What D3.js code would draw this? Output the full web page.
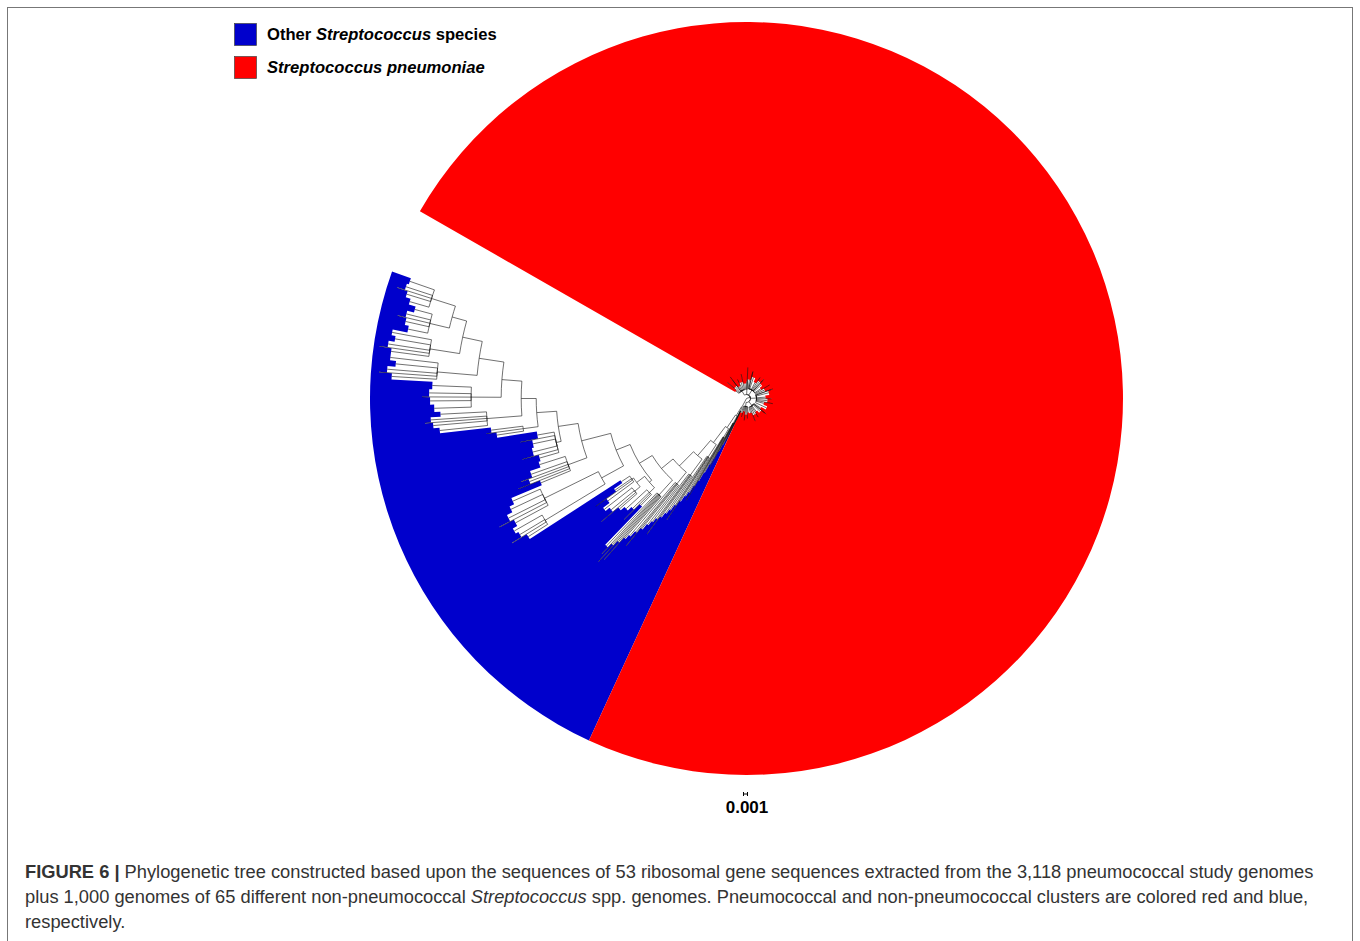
<!DOCTYPE html>
<html>
<head>
<meta charset="utf-8">
<script src="https://cdn.jsdelivr.net/npm/d3@7"></script>
<style>
  html, body { margin: 0; padding: 0; background: #fff; }
  svg { display: block; }
</style>
</head>
<body>
<svg id="fig" width="1360" height="941"></svg>
<script>
// ---------------------------------------------------------------------------
// Tree data (Newick). Tip labels = number of genomes collapsed into the tip,
// branch lengths in substitutions per site.
// ---------------------------------------------------------------------------

// Streptococcus pneumoniae (3,118 genomes): short star-like clade near the root
const pneumoSubclades = [
  "(120:0.001,1:0.004,150:0.00175,1:0.0035,1:0.0045,138:0.00125,1:0.003,150:0.002,1:0.004,143:0.0015):0.00125",
  "(30:0.002,1:0.0055,27:0.0025):0.00125",
  "(100:0.00225,1:0.00425,1:0.0045,118:0.003,110:0.002,1:0.00375,105:0.00275,1:0.0035,1:0.004,108:0.0025,100:0.00175,1:0.0042):0.0015",
  "(120:0.0025,1:0.004,1:0.0045,129:0.00325,115:0.00225,1:0.00375,120:0.00275,1:0.0042,108:0.002,110:0.003):0.0015",
  "(100:0.002,1:0.0035,1:0.004,119:0.0025,110:0.00175,1:0.00325,130:0.00225,1:0.0038,125:0.0015):0.00125",
  "(90:0.0015,1:0.003,100:0.002,1:0.0035,109:0.00125,1:0.00275,111:0.00175):0.001"
];
const pneumoStem = 0.001;

// Other Streptococcus species (1,000 genomes): clades hanging off one long
// backbone, listed from the root outwards
const otherSubclades = [
  "(6:0.0025,6:0.004,1:0.0085,6:0.006,6:0.00775):0.001",
  "(7:0.006,7:0.008,1:0.013,7:0.01,7:0.01175):0.002",
  "(7:0.01,7:0.0125,1:0.01825,7:0.01425,7:0.01625):0.0025",
  "(8:0.01125,9:0.013,1:0.01875,9:0.0145,8:0.01625):0.00375",
  "(8:0.01125,9:0.01275,1:0.01825,9:0.01375,8:0.015):0.005",
  "(8:0.0125,9:0.01425,1:0.02,9:0.01575,8:0.0175):0.00375",
  "(8:0.01375,1:0.02125,8:0.0155,1:0.0225,8:0.017,1:0.0205,12:0.01825):0.005",
  "((15:0.00375,1:0.00925,15:0.00575,20:0.007):0.00175,((15:0.00575,1:0.01125,20:0.0075,15:0.00875):0.00175,(20:0.008,1:0.01125,15:0.005,15:0.0025):0.0005):0.0025):0.00075",
  "((15:0.00575,1:0.01,15:0.00725,15:0.008):0.0175,(18:0.00925,1:0.01325,18:0.01025,17:0.00875,18:0.0075):0.015):0.00625",
  "(15:0.008,1:0.01375,15:0.0105,1:0.0125,20:0.0095,19:0.00675):0.005",
  "(20:0.005,1:0.00925,25:0.00625,24:0.00575,1:0.00875,23:0.00425):0.00125",
  "(14:0.00675,1:0.00925,14:0.008):0.00375",
  "(12:0.012,12:0.0135,1:0.0155,11:0.014,11:0.0115):0.00875",
  "(16:0.00925,16:0.01025,1:0.01225,16:0.0105,16:0.00975):0.0075",
  "(12:0.01125,1:0.0145,12:0.0125,11:0.0105,11:0.012):0.01",
  "(12:0.0095,1:0.0125,12:0.0105,11:0.009,11:0.01):0.0075",
  "(13:0.005,14:0.006,1:0.00825,13:0.00625,12:0.0045):0.005",
  "(12:0.005,12:0.00625,1:0.009,12:0.007,12:0.0065):0.00625"
];
// backbone internal branch lengths, root side first
const otherBackbone = [0.0025, 0.00375, 0.005, 0.005, 0.005, 0.00375, 0.00375, 0.00375,
                       0.0075, 0.005, 0.005, 0.00375, 0.005, 0.00625, 0.005, 0.00375];
const otherStem = 0.0025;

const clades = [
  { name: "Other Streptococcus species", color: "#0000cc" },
  { name: "Streptococcus pneumoniae", color: "#ff0000" }
];
const scaleBarLength = 0.001;

// ---------------------------------------------------------------------------
// Assemble the Newick string
// ---------------------------------------------------------------------------
function nestLadder(parts, lens, stem) {
  let s = `(${parts[parts.length - 2]},${parts[parts.length - 1]})`;
  for (let i = parts.length - 3; i >= 0; i--) s = `(${parts[i]},${s}:${lens[i]})`;
  return `${s}:${stem}`;
}
const pneumo = `(${pneumoSubclades.join(",")}):${pneumoStem}`;
const others = nestLadder(otherSubclades, otherBackbone, otherStem);
const newick = `(${pneumo},${others});`;

function parseNewick(s) {
  let i = 0;
  function node() {
    const n = {};
    if (s[i] === "(") {
      n.children = [];
      i++;
      do { n.children.push(node()); } while (s[i++] === ",");
    }
    let label = "";
    while (i < s.length && !":,);".includes(s[i])) label += s[i++];
    if (label) n.n = +label;
    if (s[i] === ":") {
      i++;
      let num = "";
      while (i < s.length && !",);".includes(s[i])) num += s[i++];
      n.length = +num;
    }
    return n;
  }
  return node();
}

// ---------------------------------------------------------------------------
// Layout
// ---------------------------------------------------------------------------
const svg = d3.select("#fig");
const W = 1360, H = 941;
const cx = 746.5, cy = 398.5, R = 376.5;
const deg = Math.PI / 180, HALF_PI = Math.PI / 2;
const FONT = "'Liberation Sans', Arial, Helvetica, sans-serif";

const root = d3.hierarchy(parseNewick(newick));
root.eachBefore(d => { d.dist = d.parent ? d.parent.dist + (d.data.length || 0) : 0; });
root.children[0].each(d => d.clade = 1);
root.children[1].each(d => d.clade = 0);

d3.cluster()
  .nodeSize([1, 1])
  .separation((a, b) => (a.data.n + b.data.n) / 2)(root);

const leaves = root.leaves();
const first = leaves[0], last = leaves[leaves.length - 1];
const angle = d3.scaleLinear()
  .domain([first.x - first.data.n / 2, last.x + last.data.n / 2])
  .range([-60.17 * deg, 289.7 * deg]);
const radius = d3.scaleLinear().domain([0, 0.094]).range([0, R]);
const unit = angle(1) - angle(0);

const g = svg.append("g").attr("transform", `translate(${cx},${cy})`);

// clade colour: one region per clade, from the tips out to the rim
function cladeRegion(ls) {
  const p = d3.path();
  const half = d => d.data.n * unit / 2;
  const a0 = angle(ls[0].x) - half(ls[0]);
  const a1 = angle(ls[ls.length - 1].x) + half(ls[ls.length - 1]);
  p.moveTo(R * Math.sin(a0), -R * Math.cos(a0));
  p.arc(0, 0, R, a0 - HALF_PI, a1 - HALF_PI, false);
  for (let i = ls.length - 1; i >= 0; i--) {
    const d = ls[i], r = radius(d.dist), a = angle(d.x);
    p.arc(0, 0, r, a + half(d) - HALF_PI, a - half(d) - HALF_PI, true);
  }
  p.closePath();
  return p.toString();
}
g.append("g").selectAll("path")
  .data(clades.map((c, k) => ({ color: c.color, leaves: leaves.filter(d => d.clade === k) })))
  .join("path")
  .attr("d", d => cladeRegion(d.leaves))
  .attr("fill", d => d.color);

// branches: arc at the parent's radius, then a radial segment
function linkPath(d) {
  const p = d3.path();
  const a0 = angle(d.parent.x), a1 = angle(d.x);
  const r0 = radius(d.parent.dist), r1 = radius(d.dist);
  p.moveTo(r0 * Math.sin(a0), -r0 * Math.cos(a0));
  if (r0 > 0) p.arc(0, 0, r0, a0 - HALF_PI, a1 - HALF_PI, a1 < a0);
  p.lineTo(r1 * Math.sin(a1), -r1 * Math.cos(a1));
  return p.toString();
}
g.append("g")
  .attr("fill", "none")
  .attr("stroke", "#111")
  .attr("stroke-width", 0.6)
  .selectAll("path")
  .data(root.descendants().slice(1))
  .join("path")
  .attr("d", linkPath);

// ---------------------------------------------------------------------------
// Legend
// ---------------------------------------------------------------------------
const legend = svg.append("g").attr("font-family", FONT)
  .attr("font-weight", "bold").attr("font-size", 16.6);
const legendItems = [
  { clade: 0, parts: [["Other ", "normal"], ["Streptococcus", "italic"], [" species", "normal"]] },
  { clade: 1, parts: [["Streptococcus pneumoniae", "italic"]] }
];
legendItems.forEach((item, i) => {
  const y = 23 + i * 33;
  legend.append("rect").attr("x", 234.5).attr("y", y + 0.5).attr("width", 22).attr("height", 22)
    .attr("fill", clades[item.clade].color).attr("stroke", "#444").attr("stroke-width", 0.7);
  const t = legend.append("text").attr("x", 267).attr("y", y + 17).attr("fill", "#000");
  item.parts.forEach(([txt, style]) => t.append("tspan").attr("font-style", style).text(txt));
});

// ---------------------------------------------------------------------------
// Scale bar
// ---------------------------------------------------------------------------
const sbW = radius(scaleBarLength), sbY = 794, sbX = cx - 1 - sbW / 2;
const sb = svg.append("g").attr("stroke", "#000").attr("stroke-width", 1);
sb.append("line").attr("x1", sbX).attr("x2", sbX + sbW).attr("y1", sbY).attr("y2", sbY);
sb.append("line").attr("x1", sbX).attr("x2", sbX).attr("y1", sbY - 2).attr("y2", sbY + 2);
sb.append("line").attr("x1", sbX + sbW).attr("x2", sbX + sbW).attr("y1", sbY - 2).attr("y2", sbY + 2);
svg.append("text").attr("x", cx + 0.5).attr("y", 813).attr("text-anchor", "middle")
  .attr("font-family", FONT)
  .attr("font-weight", "bold").attr("font-size", 17).text(d3.format(".3f")(scaleBarLength));

// ---------------------------------------------------------------------------
// Frame and caption
// ---------------------------------------------------------------------------
svg.append("rect").attr("x", 7.5).attr("y", 7.5).attr("width", W - 15).attr("height", H + 20)
  .attr("fill", "none").attr("stroke", "#777").attr("stroke-width", 1);

const captionLines = [
  [["FIGURE 6 | ", "bold", "normal"], ["Phylogenetic tree constructed based upon the sequences of 53 ribosomal gene sequences extracted from the 3,118 pneumococcal study genomes", "normal", "normal"]],
  [["plus 1,000 genomes of 65 different non-pneumococcal ", "normal", "normal"], ["Streptococcus", "normal", "italic"], [" spp. genomes. Pneumococcal and non-pneumococcal clusters are colored red and blue,", "normal", "normal"]],
  [["respectively.", "normal", "normal"]]
];
const caption = svg.append("g").attr("font-family", FONT)
  .attr("font-size", 18.3).attr("fill", "#333");
captionLines.forEach((line, i) => {
  const t = caption.append("text").attr("x", 25).attr("y", 878 + i * 25);
  line.forEach(([txt, weight, style]) => t.append("tspan")
    .attr("font-weight", weight).attr("font-style", style).text(txt));
});
</script>
</body>
</html>
